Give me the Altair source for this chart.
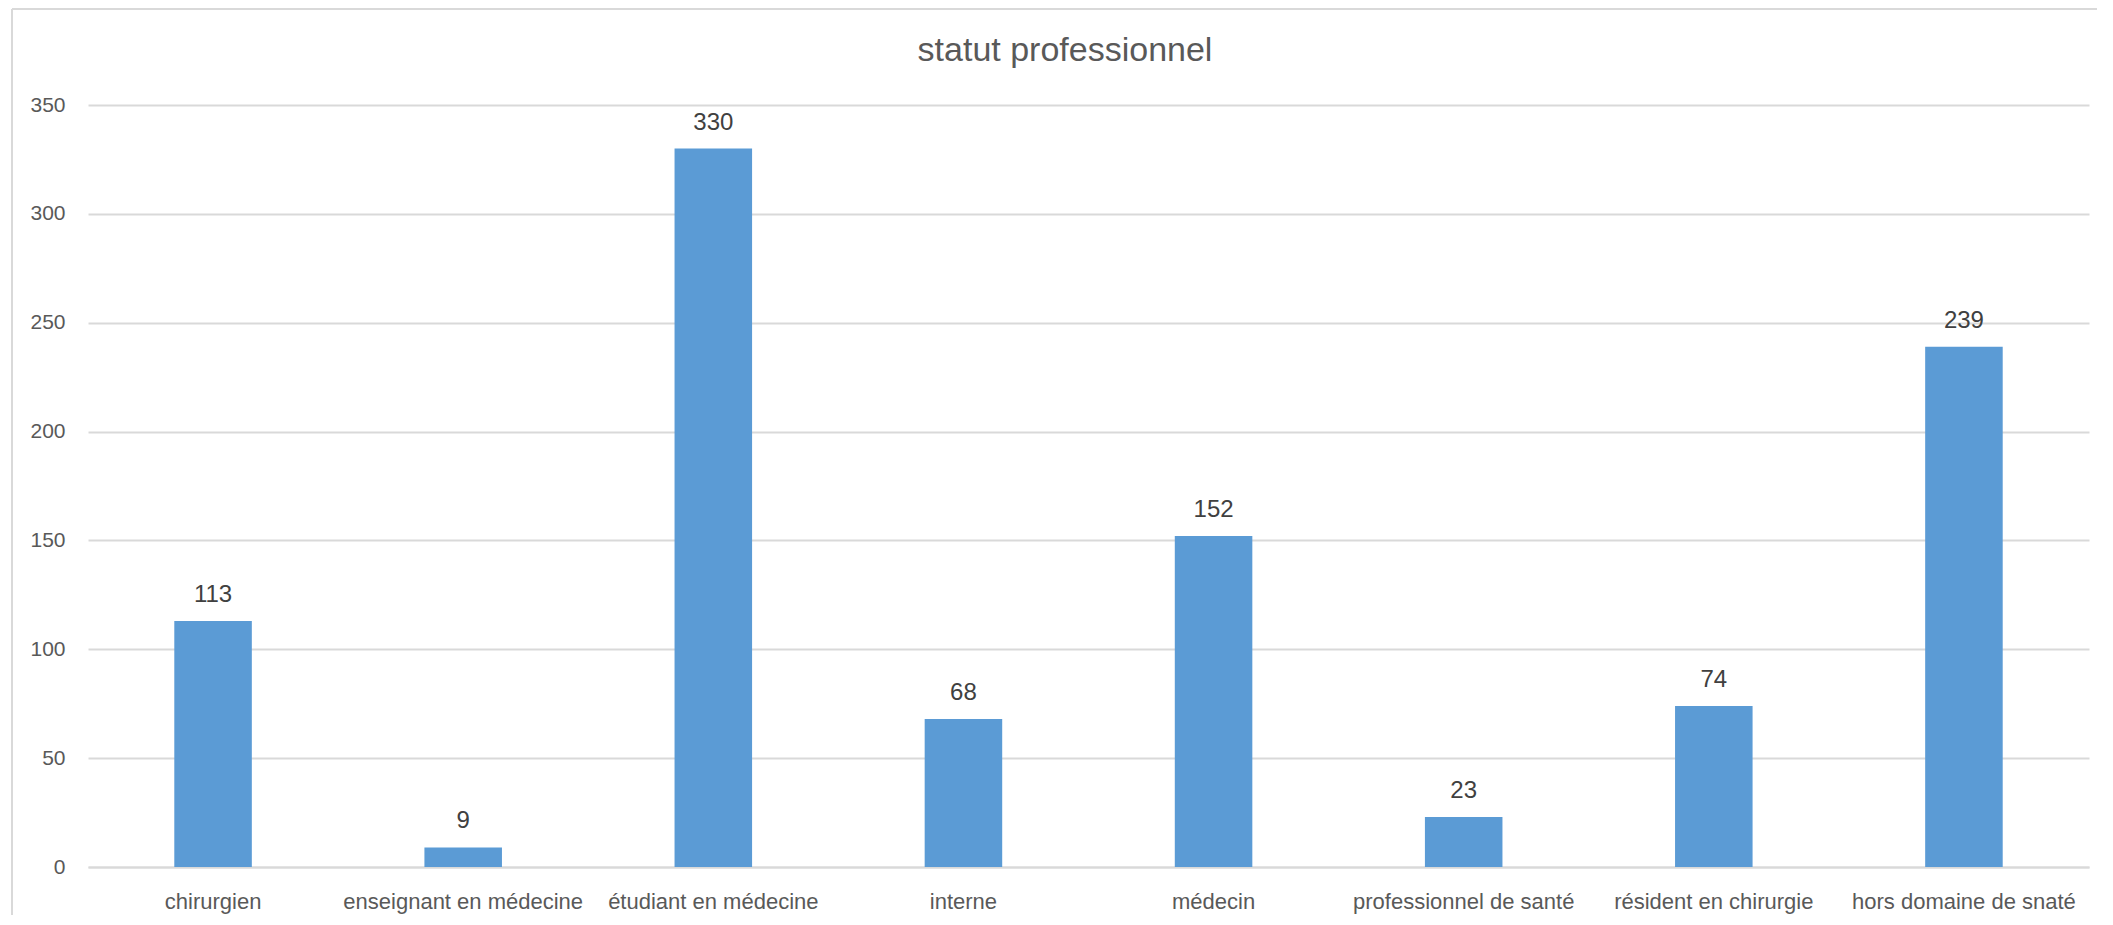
import altair as alt
import pandas as pd

categories = [
    "chirurgien",
    "enseignant en médecine",
    "étudiant en médecine",
    "interne",
    "médecin",
    "professionnel de santé",
    "résident en chirurgie",
    "hors domaine de snaté",
]
values = [113, 9, 330, 68, 152, 23, 74, 239]
y_ticks = [0, 50, 100, 150, 200, 250, 300, 350]
title_text = ["statut professionnel"]

df = pd.DataFrame({"cat": categories, "val": values})

FONT = "Liberation Sans"
GRID = "#D9D9D9"
LABEL = "#595959"

x_enc = alt.X(
    "cat:N",
    sort=categories,
    title=None,
    scale=alt.Scale(paddingInner=0.69, paddingOuter=0.345),
    axis=alt.Axis(
        labelAngle=0,
        labelFont=FONT,
        labelFontSize=22,
        labelColor=LABEL,
        labelPadding=24,
        labelLimit=0,
        ticks=False,
        domainColor=GRID,
        domainWidth=2,
        grid=False,
    ),
)
y_enc = alt.Y(
    "val:Q",
    title=None,
    scale=alt.Scale(domain=[0, 350], nice=False),
    axis=alt.Axis(
        values=y_ticks,
        labelFont=FONT,
        labelFontSize=21,
        labelColor=LABEL,
        labelPadding=23,
        ticks=False,
        domain=False,
        gridColor=GRID,
        gridWidth=2,
    ),
)

bars = alt.Chart(df).mark_bar(color="#5B9BD5").encode(x=x_enc, y=y_enc)

labels = alt.Chart(df).mark_text(
    font=FONT, fontSize=24, color="#404040", baseline="alphabetic", dy=-19
).encode(x=alt.X("cat:N", sort=categories), y="val:Q", text="val:Q")

one = alt.Data(values=[{"k": 1}])
frame_left = alt.Chart(one).mark_rule(color=GRID, strokeWidth=2, clip=False).encode(
    x=alt.value(-76), y=alt.value(-96), y2=alt.value(900)
)
frame_top = alt.Chart(one).mark_rule(color=GRID, strokeWidth=2, clip=False).encode(
    x=alt.value(-76), x2=alt.value(2100), y=alt.value(-96)
)

title = alt.Chart(pd.DataFrame({"t": title_text})).mark_text(
    font=FONT, fontSize=34, color=LABEL, align="center", baseline="middle", clip=False
).encode(x=alt.value(977), y=alt.value(-54), text="t:N")

chart = alt.layer(frame_left, frame_top, bars, labels, title).properties(
    width=2001,
    height=762,
    padding={"left": 80, "top": 97, "right": 8, "bottom": 48},
    autosize=alt.AutoSizeParams(type="none"),
).configure_view(stroke="transparent", strokeWidth=0)

chart.save("out.html", embed_options={"renderer": "svg", "actions": False})
